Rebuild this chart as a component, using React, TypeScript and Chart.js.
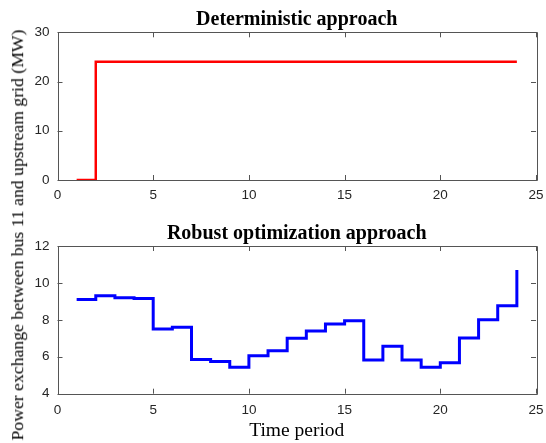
import React, { useEffect, useRef } from "react";
import { Chart, registerables } from "chart.js";
Chart.register(...registerables);

const periods = [1, 2, 3, 4, 5, 6, 7, 8, 9, 10, 11, 12, 13, 14, 15, 16, 17, 18, 19, 20, 21, 22, 23, 24];
const deterministic = [0, 24, 24, 24, 24, 24, 24, 24, 24, 24, 24, 24, 24, 24, 24, 24, 24, 24, 24, 24, 24, 24, 24, 24];
const robust = [9.1, 9.3, 9.2, 9.15, 7.5, 7.6, 5.85, 5.75, 5.43, 6.05, 6.33, 7.0, 7.4, 7.78, 7.95, 5.83, 6.57, 5.83, 5.43, 5.67, 7.02, 8.0, 8.76, 10.7];
const xTickValues = [0, 5, 10, 15, 20, 25];
const topTickValues = [0, 10, 20, 30];
const bottomTickValues = [4, 6, 8, 10, 12];

const TICK_FONT = { family: "Liberation Sans", size: 13.5 };
const TEXT_COLOR = "#262626";
const BOX_COLOR = "#555555";
const PLOT_LEFT = 57.5;
const PLOT_RIGHT = 536;

const boxPlugin = {
  id: "matlabBox",
  afterDraw(chart: any) {
    const { ctx, chartArea } = chart;
    const { left, right, top, bottom } = chartArea;
    const xs = chart.scales.x;
    const ys = chart.scales.y;
    ctx.save();
    ctx.strokeStyle = BOX_COLOR;
    ctx.lineWidth = 1;
    ctx.beginPath();
    ctx.rect(Math.round(left) + 0.5, Math.round(top) + 0.5, Math.round(right - left), Math.round(bottom - top));
    ctx.stroke();
    const tl = 5;
    ctx.beginPath();
    xs.ticks.forEach((t: any) => {
      const px = Math.round(xs.getPixelForValue(t.value)) + 0.5;
      ctx.moveTo(px, bottom);
      ctx.lineTo(px, bottom - tl);
      ctx.moveTo(px, top);
      ctx.lineTo(px, top + tl);
    });
    ys.ticks.forEach((t: any) => {
      const py = Math.round(ys.getPixelForValue(t.value)) + 0.5;
      ctx.moveTo(left, py);
      ctx.lineTo(left + tl, py);
      ctx.moveTo(right, py);
      ctx.lineTo(right - tl, py);
    });
    ctx.stroke();
    ctx.restore();
  },
};

// force the plot area to a fixed horizontal extent
const areaPlugin = {
  id: "fixArea",
  afterLayout(chart: any) {
    const ca = chart.chartArea;
    const xs = chart.scales.x;
    ca.left = PLOT_LEFT;
    ca.right = PLOT_RIGHT;
    ca.width = PLOT_RIGHT - PLOT_LEFT;
    xs.left = PLOT_LEFT;
    xs.right = PLOT_RIGHT;
    xs.width = PLOT_RIGHT - PLOT_LEFT;
    xs.configure();
    const ys = chart.scales.y;
    ys.right = PLOT_LEFT;
    ys.left = 0;
    ys.width = PLOT_LEFT;
    const title = chart.titleBlock;
    if (title) {
      title.left = PLOT_LEFT;
      title.right = PLOT_RIGHT;
      title.width = PLOT_RIGHT - PLOT_LEFT;
    }
  },
};

function makeConfig(opts: {
  title: string;
  values: number[];
  color: string;
  width: number;
  yMin: number;
  yMax: number;
  yTicks: number[];
  canvasH: number;
  plotBottom: number;
  titlePad: { top: number; bottom: number };
  xPad: number;
  xTitle?: string;
}) {
  return {
    type: "line" as const,
    data: {
      datasets: [
        {
          data: periods.map((p, i) => ({ x: p, y: opts.values[i] })),
          borderColor: opts.color,
          borderWidth: opts.width,
          pointRadius: 0,
          stepped: true,
          fill: false,
          borderJoinStyle: "miter" as const,
        },
      ],
    },
    options: {
      responsive: false,
      animation: false as const,
      layout: { padding: { left: 0, right: 10, top: 0, bottom: 0 } },
      plugins: {
        legend: { display: false },
        tooltip: { enabled: false },
        title: {
          display: true,
          text: opts.title,
          color: "#000000",
          font: { family: "Liberation Serif", size: 20, weight: "bold" as const, lineHeight: 1.2 },
          padding: opts.titlePad,
        },
      },
      scales: {
        x: {
          type: "linear" as const,
          min: 0,
          max: 25,
          afterBuildTicks: (s: any) => {
            s.ticks = xTickValues.map((v) => ({ value: v }));
          },
          afterFit: (s: any) => {
            s.height = opts.canvasH - opts.plotBottom;
          },
          grid: { display: false, drawTicks: false },
          border: { display: false },
          ticks: { color: TEXT_COLOR, font: TICK_FONT, padding: opts.xPad, maxRotation: 0 },
          title: opts.xTitle
            ? {
                display: true,
                text: opts.xTitle,
                color: "#000000",
                font: { family: "Liberation Serif", size: 19.5 },
                padding: { top: 0, bottom: 0.5 },
              }
            : { display: false },
        },
        y: {
          type: "linear" as const,
          min: opts.yMin,
          max: opts.yMax,
          afterBuildTicks: (s: any) => {
            s.ticks = opts.yTicks.map((v) => ({ value: v }));
          },
          afterFit: (s: any) => {
            s.width = PLOT_LEFT;
          },
          grid: { display: false, drawTicks: false },
          border: { display: false },
          ticks: { color: TEXT_COLOR, font: TICK_FONT, padding: 8 },
        },
      },
    },
    plugins: [areaPlugin, boxPlugin],
  };
}

export default function App() {
  const topRef = useRef<HTMLCanvasElement>(null);
  const botRef = useRef<HTMLCanvasElement>(null);

  useEffect(() => {
    const c1 = new Chart(
      topRef.current!,
      makeConfig({
        title: "Deterministic approach",
        values: deterministic,
        color: "#ff0000",
        width: 2.5,
        yMin: 0,
        yMax: 30,
        yTicks: topTickValues,
        canvasH: 215,
        plotBottom: 180,
        titlePad: { top: 8.3, bottom: 0 },
        xPad: 7,
      }) as any
    );
    const c2 = new Chart(
      botRef.current!,
      makeConfig({
        title: "Robust optimization approach",
        values: robust,
        color: "#0000ff",
        width: 3,
        yMin: 4,
        yMax: 12,
        yTicks: bottomTickValues,
        canvasH: 228,
        plotBottom: 178.7,
        titlePad: { top: 7, bottom: 0 },
        xPad: 8.5,
        xTitle: "Time period",
      }) as any
    );
    return () => {
      c1.destroy();
      c2.destroy();
    };
  }, []);

  return (
    <div
      style={{
        position: "fixed",
        left: 0,
        top: 0,
        width: 546,
        height: 443,
        background: "#ffffff",
        overflow: "hidden",
      }}
    >
      <canvas
        ref={topRef}
        width={546}
        height={215}
        style={{ position: "absolute", left: 0, top: 0, width: 546, height: 215, display: "block" }}
      />
      <canvas
        ref={botRef}
        width={546}
        height={228}
        style={{ position: "absolute", left: 0, top: 215, width: 546, height: 228, display: "block" }}
      />
      <div
        style={{
          position: "absolute",
          left: 18.4,
          top: 234.5,
          transform: "translate(-50%, -50%) rotate(-90deg)",
          whiteSpace: "nowrap",
          fontFamily: "Liberation Serif",
          fontSize: 17.7,
          lineHeight: 1,
          color: "#000000",
        }}
      >
        Power exchange between bus 11 and upstream grid (MW)
      </div>
    </div>
  );
}
